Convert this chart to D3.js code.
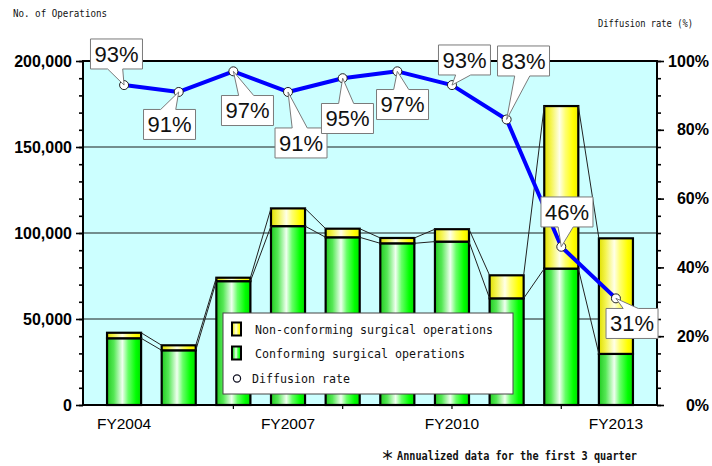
<!DOCTYPE html>
<html>
<head>
<meta charset="utf-8">
<script src="https://cdn.jsdelivr.net/npm/d3@7"></script>
<style>
  html, body { margin: 0; padding: 0; background: #fff; }
  svg { display: block; }
</style>
</head>
<body>
<svg id="chart" width="712" height="466"></svg>
<script>
// Fiscal years on the category axis
const years = ["FY2004", "FY2005", "FY2006", "FY2007", "FY2008", "FY2009", "FY2010", "FY2011", "FY2012", "FY2013"];
// Conforming surgical operations (count)
const conforming = [38800, 31800, 72000, 104000, 97500, 94000, 95000, 62000, 79300, 29700];
// Non-conforming surgical operations (count)
const nonConforming = [3200, 2900, 2000, 10300, 5000, 3100, 7200, 13400, 94500, 67200];
// Diffusion rate (%)
const diffusionRate = [93, 91, 97, 91, 95, 97, 93, 83, 46, 31];
// Axis ticks
const countTicks = [0, 50000, 100000, 150000, 200000];
const rateTicks = [0, 20, 40, 60, 80, 100];
const labelledYears = ["FY2004", "FY2007", "FY2010", "FY2013"];
const tickYears = ["FY2006", "FY2008", "FY2010", "FY2012"];

// Callout box placement relative to each rate point
const calloutOffsets = [
  [-7.6, -31.1], [-9.2, 32.5], [14.1, 39.2], [13, 51], [4.8, 40.3],
  [5.2, 33.2], [12.5, -25.1], [16.9, -58.5], [5.7, -34.8], [16.1, 25.1]
];

const svg = d3.select("#chart");
const plotLeft = 83, plotRight = 657, plotTop = 61, plotBottom = 405;
const sansFont = "'Liberation Sans', Arial, sans-serif";
const monoFont = "'DejaVu Sans Mono', monospace";

const x = d3.scaleBand().domain(years).range([plotLeft, plotRight])
  .paddingInner(0.377).paddingOuter(0.44);
const yL = d3.scaleLinear().domain([0, 200000]).range([plotBottom, plotTop]);
const yR = d3.scaleLinear().domain([0, 100]).range([plotBottom, plotTop]);

// Gradients for the cylinder-like bars
const defs = svg.append("defs");
function grad(id, stops) {
  const g = defs.append("linearGradient").attr("id", id)
    .attr("x1", "0").attr("x2", "1").attr("y1", "0").attr("y2", "0");
  stops.forEach(([o, c]) => g.append("stop").attr("offset", o).attr("stop-color", c));
}
grad("gGreen", [[0, "#22cc22"], [0.2, "#55e855"], [0.45, "#f0fff0"], [0.62, "#66ff66"], [0.85, "#00ff00"], [1, "#00dd00"]]);
grad("gYellow", [[0, "#e0e000"], [0.2, "#f4f450"], [0.45, "#ffffe8"], [0.62, "#ffff70"], [0.85, "#ffff00"], [1, "#eeee00"]]);

// Plot background
svg.append("rect").attr("x", plotLeft).attr("y", plotTop)
  .attr("width", plotRight - plotLeft).attr("height", plotBottom - plotTop).attr("fill", "#ccffff");

// Gridlines
svg.append("g").selectAll("line").data(countTicks.filter(d => d > 0 && d < 200000)).join("line")
  .attr("x1", plotLeft).attr("x2", plotRight)
  .attr("y1", d => yL(d)).attr("y2", d => yL(d))
  .attr("stroke", "#566868").attr("stroke-width", 1.3);

// Stacked bars
const stackData = years.map((y, i) => ({ year: y, conf: conforming[i], non: nonConforming[i] }));
const series = d3.stack().keys(["conf", "non"])(stackData);
const fills = { conf: "url(#gGreen)", non: "url(#gYellow)" };

const barG = svg.append("g");
series.forEach(s => {
  barG.append("g").selectAll("rect").data(s).join("rect")
    .attr("x", d => x(d.data.year))
    .attr("width", x.bandwidth())
    .attr("y", d => yL(d[1]))
    .attr("height", d => yL(d[0]) - yL(d[1]))
    .attr("fill", fills[s.key])
    .attr("stroke", "#000").attr("stroke-width", 2.2);
});

// Series lines linking segment tops of neighbouring bars
const linkG = svg.append("g");
series.forEach(s => {
  const pairs = d3.pairs(s);
  linkG.append("g").selectAll("line").data(pairs).join("line")
    .attr("x1", p => x(p[0].data.year) + x.bandwidth())
    .attr("y1", p => yL(p[0][1]))
    .attr("x2", p => x(p[1].data.year))
    .attr("y2", p => yL(p[1][1]))
    .attr("stroke", "#222").attr("stroke-width", 1);
});

// Plot frame
svg.append("rect").attr("x", plotLeft).attr("y", plotTop)
  .attr("width", plotRight - plotLeft).attr("height", plotBottom - plotTop)
  .attr("fill", "none").attr("stroke", "#000").attr("stroke-width", 2);

// Left axis
const minorCounts = d3.range(0, 200001, 10000);
const axL = svg.append("g").attr("transform", `translate(${plotLeft},0)`);
axL.append("g").call(d3.axisLeft(yL).tickValues(minorCounts).tickSize(4).tickFormat(""));
axL.append("g").call(d3.axisLeft(yL).tickValues(countTicks).tickSize(7).tickPadding(4)
  .tickFormat(d3.format(",")));
axL.selectAll(".domain").remove();
axL.selectAll("line").attr("stroke", "#000").attr("stroke-width", 1.6);
axL.selectAll("text").attr("font-family", sansFont).attr("font-size", 16)
  .attr("font-weight", "bold").attr("fill", "#000");

// Right axis
const minorRates = d3.range(0, 101, 5);
const axR = svg.append("g").attr("transform", `translate(${plotRight},0)`);
axR.append("g").call(d3.axisRight(yR).tickValues(minorRates).tickSize(4).tickFormat(""));
axR.append("g").call(d3.axisRight(yR).tickValues(rateTicks).tickSize(7)
  .tickFormat(d => d + "%"));
axR.selectAll(".domain").remove();
axR.selectAll("line").attr("stroke", "#000").attr("stroke-width", 1.6);
axR.selectAll("text").attr("x", 52).attr("text-anchor", "end")
  .attr("font-family", sansFont).attr("font-size", 16)
  .attr("font-weight", "bold").attr("fill", "#000");

// Bottom axis: small ticks and year labels
const axB = svg.append("g").attr("transform", `translate(0,${plotBottom})`);
axB.append("g").call(d3.axisBottom(x).tickValues(tickYears).tickSize(4).tickFormat(""));
axB.append("g").call(d3.axisBottom(x).tickValues(labelledYears).tickSize(0).tickPadding(13));
axB.selectAll(".domain").remove();
axB.selectAll("line").attr("stroke", "#000").attr("stroke-width", 1.2);
axB.selectAll("text").attr("font-family", sansFont).attr("font-size", 15.5).attr("fill", "#000");

// Diffusion rate line
const ratePts = years.map((y, i) => [x(y) + x.bandwidth() / 2, yR(diffusionRate[i])]);
svg.append("path").datum(ratePts)
  .attr("d", d3.line())
  .attr("fill", "none").attr("stroke", "#0000ff").attr("stroke-width", 4)
  .attr("stroke-linejoin", "round");
svg.append("g").selectAll("circle").data(ratePts).join("circle")
  .attr("cx", d => d[0]).attr("cy", d => d[1]).attr("r", 4.5)
  .attr("fill", "#fff").attr("stroke", "#222").attr("stroke-width", 1);

// Legend
const lg = svg.append("g");
lg.append("rect").attr("x", 223).attr("y", 313).attr("width", 290).attr("height", 81)
  .attr("fill", "#fff").attr("stroke", "#444").attr("stroke-width", 1);
const legendItems = [
  { label: "Non-conforming surgical operations", fill: "url(#gYellow)", y: 329 },
  { label: "Conforming surgical operations", fill: "url(#gGreen)", y: 353 }
];
legendItems.forEach(it => {
  lg.append("rect").attr("x", 232).attr("y", it.y - 6.5).attr("width", 9).attr("height", 13)
    .attr("fill", it.fill).attr("stroke", "#000").attr("stroke-width", 2);
  lg.append("text").attr("x", 255).attr("y", it.y).attr("dy", "0.35em")
    .attr("font-family", monoFont).attr("font-size", 13)
    .attr("textLength", it.label.length * 7).attr("lengthAdjust", "spacingAndGlyphs")
    .attr("fill", "#111").text(it.label);
});
lg.append("circle").attr("cx", 237).attr("cy", 378.5).attr("r", 3.6)
  .attr("fill", "#fff").attr("stroke", "#112").attr("stroke-width", 1.2);
lg.append("text").attr("x", 252).attr("y", 378).attr("dy", "0.35em")
  .attr("font-family", monoFont).attr("font-size", 13)
  .attr("textLength", 14 * 7).attr("lengthAdjust", "spacingAndGlyphs")
  .attr("fill", "#111").text("Diffusion rate");

// Value callouts
const bw = 52, bh = 30;
const cg = svg.append("g");
ratePts.forEach((p, i) => {
  const [dx, dy] = calloutOffsets[i];
  const cx = p[0] + dx, cy = p[1] + dy;
  const l = cx - bw / 2, r = cx + bw / 2, t = cy - bh / 2, b = cy + bh / 2;
  const b1 = l + bw * 0.33, b2 = l + bw * 0.62;
  const path = d3.path();
  if (dy > 0) {
    path.moveTo(l, t); path.lineTo(b1, t); path.lineTo(p[0], p[1]); path.lineTo(b2, t);
    path.lineTo(r, t); path.lineTo(r, b); path.lineTo(l, b); path.closePath();
  } else {
    path.moveTo(l, t); path.lineTo(r, t); path.lineTo(r, b); path.lineTo(b2, b);
    path.lineTo(p[0], p[1]); path.lineTo(b1, b); path.lineTo(l, b); path.closePath();
  }
  cg.append("path").attr("d", path.toString())
    .attr("fill", "#fff").attr("stroke", "#7a7a7a").attr("stroke-width", 1);
  cg.append("text").attr("x", cx).attr("y", cy).attr("dy", "0.36em")
    .attr("text-anchor", "middle").attr("font-family", sansFont).attr("font-size", 22)
    .attr("fill", "#111").text(diffusionRate[i] + "%");
});

// Axis titles
svg.append("text").attr("x", 13).attr("y", 17)
  .attr("font-family", monoFont).attr("font-size", 10.5)
  .attr("textLength", 94).attr("lengthAdjust", "spacingAndGlyphs")
  .attr("fill", "#111").text("No. of Operations");
svg.append("text").attr("x", 598).attr("y", 27)
  .attr("font-family", monoFont).attr("font-size", 10.5)
  .attr("textLength", 95).attr("lengthAdjust", "spacingAndGlyphs")
  .attr("fill", "#111").text("Diffusion rate (%)");

// Footnote
svg.append("text").attr("x", 381).attr("y", 460)
  .attr("font-family", "'Noto Sans CJK JP', sans-serif").attr("font-size", 13)
  .attr("font-weight", "bold").attr("fill", "#111").text("＊");
svg.append("text").attr("x", 397).attr("y", 460)
  .attr("font-family", monoFont).attr("font-size", 13)
  .attr("font-weight", "bold")
  .attr("textLength", 240).attr("lengthAdjust", "spacingAndGlyphs")
  .attr("fill", "#111").text("Annualized data for the first 3 quarter");
</script>
</body>
</html>
